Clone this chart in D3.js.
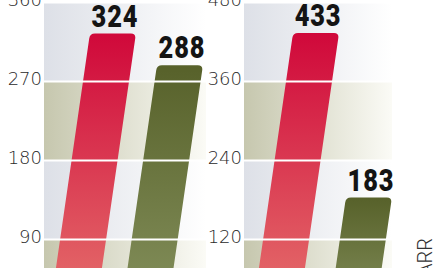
<!DOCTYPE html>
<html>
<head>
<meta charset="utf-8">
<script src="https://cdn.jsdelivr.net/npm/d3@7"></script>
<style>
    html, body { margin: 0; padding: 0; background: #fff; }
    svg { display: block; }
</style>
</head>
<body>
<div class="chart"></div>
<script>
// bar keys and values
var barKeys = ["first", "second"];
var leftValues = [324, 288];
var rightValues = [433, 183];
var leftTicks = [90, 180, 270, 360];
var rightTicks = [120, 240, 360, 480];
var sideNote = "ARR";

var width = 439, height = 268;
var baseY = 318, topY = 2;
var slant = 0.145;
var barWidth = 46;

var svg = d3.select(".chart").append("svg")
    .attr("width", width)
    .attr("height", height);

var defs = svg.append("defs");

function addGradient(id, from, to, horizontal, x1, x2) {
    var g = defs.append("linearGradient").attr("id", id);
    if (horizontal) {
        g.attr("gradientUnits", "userSpaceOnUse")
            .attr("x1", x1).attr("x2", x2).attr("y1", 0).attr("y2", 0);
    } else {
        g.attr("x1", 0).attr("x2", 0).attr("y1", 0).attr("y2", 1);
    }
    g.append("stop").attr("offset", "0%").attr("stop-color", from);
    g.append("stop").attr("offset", "100%").attr("stop-color", to);
}

addGradient("barRed", "#d0083a", "#e6746e");
addGradient("barGreen", "#57612a", "#86925e");

function barPath(xb, yt) {
    var r = 5;
    var tl = xb + (baseY - yt) * slant;
    var tr = tl + barWidth;
    return "M" + xb + "," + baseY +
        "L" + (tl - r * slant) + "," + (yt + r) +
        "Q" + tl + "," + yt + " " + (tl + r) + "," + yt +
        "L" + (tr - r) + "," + yt +
        "Q" + tr + "," + yt + " " + (tr - r * slant) + "," + (yt + r) +
        "L" + (xb + barWidth) + "," + baseY + "Z";
}

function drawPanel(id, values, ticks, left, right, barRange, pad) {
    var y = d3.scaleLinear().domain([0, ticks[ticks.length - 1]]).range([baseY, topY]);
    var x = d3.scaleBand().domain(barKeys).range(barRange).paddingInner(pad);

    addGradient(id + "Blue", "#dde0e7", "#ffffff", true, left, right);
    addGradient(id + "Beige", "#c6c7ae", "#fbfbf6", true, left, right);

    var g = svg.append("g");
    var edges = [0].concat(ticks);

    g.selectAll("rect.band")
        .data(d3.pairs(edges))
        .enter().append("rect")
        .attr("class", "band")
        .attr("x", left)
        .attr("width", right - left)
        .attr("y", function (d) { return y(d[1]); })
        .attr("height", function (d) { return y(d[0]) - y(d[1]); })
        .attr("fill", function (d, i) { return "url(#" + id + (i % 2 ? "Blue" : "Beige") + ")"; });

    g.selectAll("path.bar")
        .data(values)
        .enter().append("path")
        .attr("class", "bar")
        .attr("d", function (d, i) { return barPath(x(barKeys[i]), y(d)); })
        .attr("fill", function (d, i) { return i === 0 ? "url(#barRed)" : "url(#barGreen)"; });

    // white gridlines sit on top of the bars
    var axis = g.append("g")
        .attr("transform", "translate(" + left + ",0)")
        .call(d3.axisLeft(y).tickValues(ticks).tickSize(-(right - left)).tickPadding(2));
    axis.select(".domain").remove();
    axis.selectAll(".tick line")
        .attr("stroke", "#fff")
        .attr("stroke-width", 2);
    axis.selectAll(".tick text")
        .attr("dy", "0.32em")
        .attr("y", -2)
        .style("font-family", '"DejaVu Sans", sans-serif')
        .style("font-weight", 200)
        .style("font-size", "18px")
        .attr("fill", "#2a2a2a");

    // condensed bold numbers over the bar tops
    g.selectAll("text.value")
        .data(values)
        .enter().append("text")
        .attr("class", "value")
        .attr("transform", function (d, i) {
            var cx = x(barKeys[i]) + (baseY - y(d)) * slant + barWidth / 2 + 2;
            return "translate(" + cx + "," + (y(d) - 7) + ") scale(0.82,1)";
        })
        .attr("text-anchor", "middle")
        .style("font-family", "Roboto, sans-serif")
        .style("font-weight", 900)
        .style("font-size", "31px")
        .style("letter-spacing", "1px")
        .attr("fill", "#141414")
        .text(function (d) { return d; });
}

drawPanel("left", leftValues, leftTicks, 44, 206, [48.7, 166.3], 0.357);
drawPanel("right", rightValues, rightTicks, 244, 392, [251.7, 374.5], 0.40);

svg.append("text")
    .attr("transform", "translate(432,238) rotate(-90)")
    .attr("text-anchor", "end")
    .style("font-family", "Roboto, sans-serif")
    .style("font-weight", 300)
    .style("font-size", "20px")
    .attr("fill", "#333")
    .text(sideNote);
</script>
</body>
</html>
